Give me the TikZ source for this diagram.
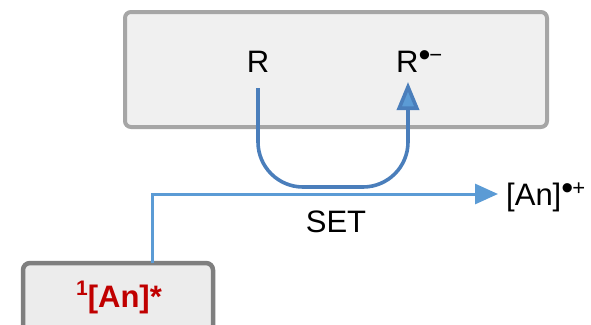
\documentclass[tikz,border=0pt]{standalone}
\usepackage{fontspec}
\setmainfont{Liberation Sans}
\usetikzlibrary{arrows.meta,calc}
\definecolor{boxfill}{HTML}{F0F0F0}
\definecolor{boxline}{HTML}{A6A6A6}
\definecolor{lowfill}{HTML}{ECECEC}
\definecolor{lowline}{HTML}{7F7F7F}
\definecolor{setblue}{HTML}{4A7EBB}
\definecolor{lineblue}{HTML}{5B9BD5}
\definecolor{anred}{HTML}{C00000}
% radical dot and charge, raised to about cap height
\newcommand{\chg}[1]{\raisebox{6pt}{\fontsize{34}{36}\selectfont •}\kern-1pt\raisebox{10pt}{\fontsize{22}{24}\selectfont #1}}
\tikzset{
  x=1pt, y=1pt,
  panel/.style={draw=boxline, fill=boxfill, line width=4pt, rounded corners=6pt},
  lowpanel/.style={draw=lowline, fill=lowfill, line width=4.5pt, rounded corners=7pt},
  species/.style={font=\fontsize{31}{34}\selectfont, inner sep=0pt},
  transfer/.style={draw=setblue, line width=3.6pt, rounded corners=45pt,
    -{Triangle[length=28pt,width=22pt,fill=lineblue]}},
  oxline/.style={draw=lineblue, line width=3pt,
    -{Triangle[length=23pt,width=20pt,fill=lineblue]}},
}
\begin{document}
\begin{tikzpicture}
\useasboundingbox (0,0) rectangle (591,-324);
% upper compartment with the acceptor
\draw[panel] (125,-12) rectangle (547,-127);
\node[species, anchor=base] (r) at (258,-72) {R};
\node[species, anchor=base west] (rad) at (396,-72) {R\chg{−}};
% lower compartment with the excited donor
\draw[lowpanel] (23,-263) rectangle (213,-345);
\node[species, anchor=base, text=anred, font=\fontsize{31}{34}\selectfont\bfseries] (an) at (119,-307) {\raisebox{0.36em}{\fontsize{21}{23}\selectfont 1}[An]*};
\coordinate (lowtop) at (152,-263);
\coordinate (turn) at (152,-194);
% oxidised donor
\node[species, anchor=base west] (ancat) at (506,-205) {[An]\chg{+}};
\node[species, anchor=base] (set) at (336,-232) {SET};
% electron transfer path from the donor to the radical cation label
\draw[oxline] (lowtop) -- (turn) -- ($(ancat.west |- turn)+(-8,0)$);
% electron transfer from R to R radical anion
\coordinate (rstart) at (258,-88);
\coordinate (rend) at (408,-82);
\draw[transfer] (rstart) -- (258,-187) -- (408,-187) -- (rend);
\end{tikzpicture}
\end{document}
